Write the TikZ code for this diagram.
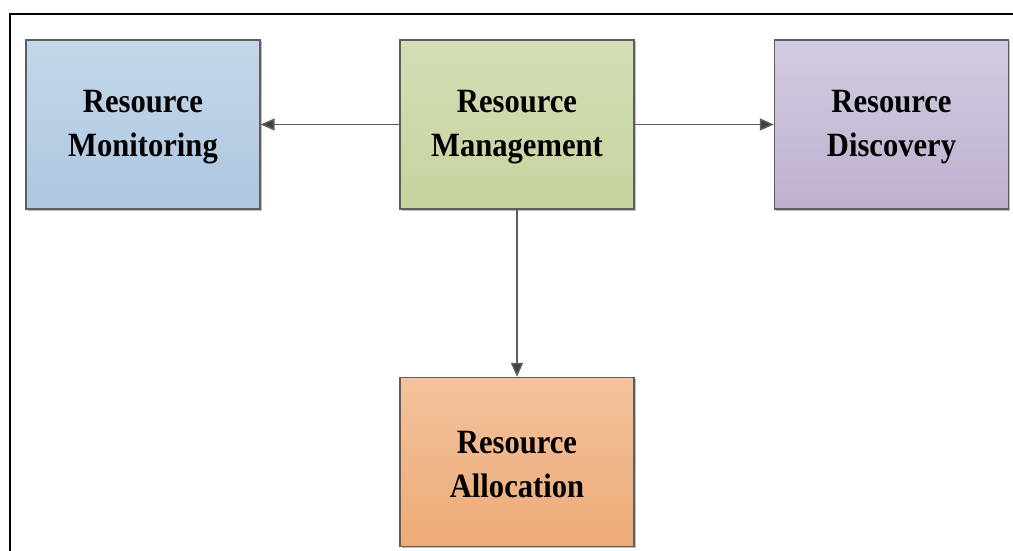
\documentclass[tikz,border=0pt]{standalone}
\usepackage{fontspec}
\setmainfont[FakeStretch=0.9]{Liberation Serif}
\usetikzlibrary{arrows.meta,shadows}
\definecolor{edgegray}{HTML}{5E5E5E}
\definecolor{tipgray}{HTML}{404040}
\definecolor{monTop}{HTML}{C4D7EA}
\definecolor{monBot}{HTML}{ADC7DF}
\definecolor{mgmTop}{HTML}{D4DEB6}
\definecolor{mgmBot}{HTML}{C6D39D}
\definecolor{disTop}{HTML}{D2CBE0}
\definecolor{disBot}{HTML}{BEB1D0}
\definecolor{allTop}{HTML}{F3C29C}
\definecolor{allBot}{HTML}{EDAB77}
\tikzset{
  blockbox/.style={rectangle, draw=edgegray, line width=1.3pt,
    minimum width=234pt, minimum height=169pt, inner sep=0pt,
    drop shadow={shadow xshift=1.5pt, shadow yshift=-1.5pt, opacity=0.25, fill=black}},
  blocktext/.style={align=center, inner sep=0pt, text=black,
    font=\fontsize{34}{44}\selectfont\bfseries},
  link/.style={draw=edgegray, line width=1.5pt,
    -{Triangle[length=14pt,width=12pt,fill=tipgray]}},
}
\begin{document}
\begin{tikzpicture}[x=1pt,y=-1pt]
\useasboundingbox (0,0) rectangle (1013,551);
% outer frame, open on the right and bottom
\draw[line width=2.2pt, black] (10,551) -- (10,14) -- (1013,14);
% blocks
\node[blockbox, top color=monTop, bottom color=monBot] (mon) at (143,124.5) {};
\node[blockbox, top color=mgmTop, bottom color=mgmBot] (mgm) at (517,124.5) {};
\node[blockbox, top color=disTop, bottom color=disBot] (dis) at (891.5,124.5) {};
\node[blockbox, top color=allTop, bottom color=allBot] (all) at (517,462) {};
% two-line labels, placed slightly below each block's centre
\node[blocktext] (monL) at ([yshift=-3pt]mon.center) {Resource\\Monitoring};
\node[blocktext] (mgmL) at ([yshift=-3pt]mgm.center) {Resource\\Management};
\node[blocktext] (disL) at ([yshift=-3pt]dis.center) {Resource\\Discovery};
\node[blocktext] (allL) at ([yshift=-3pt]all.center) {Resource\\Allocation};
% connectors
\draw[link] (mgm.west) -- (mon.east);
\draw[link] (mgm.east) -- (dis.west);
\draw[link] (mgm.south) -- (all.north);
\end{tikzpicture}
\end{document}
